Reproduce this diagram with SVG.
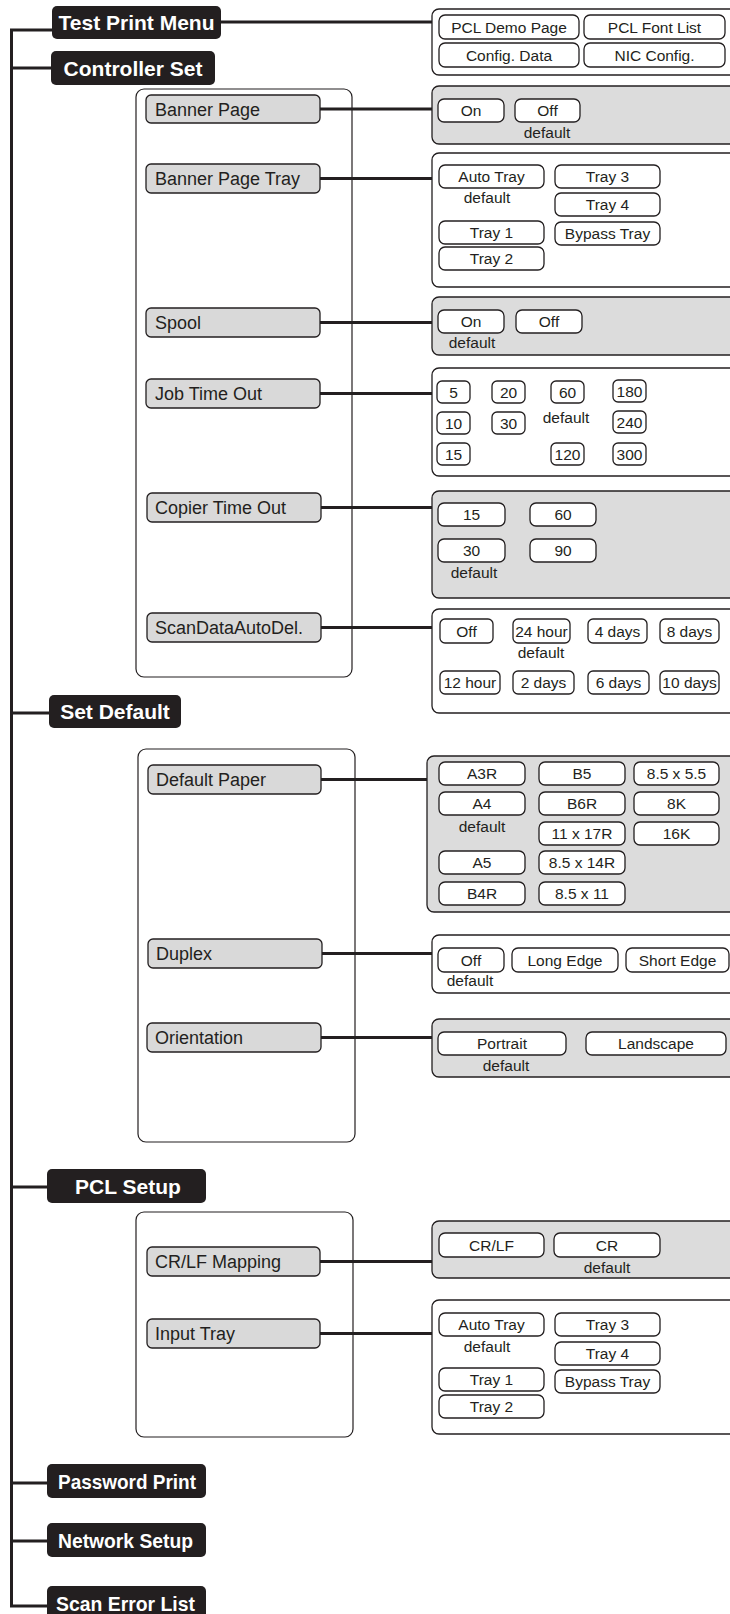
<svg xmlns="http://www.w3.org/2000/svg" width="730" height="1614" viewBox="0 0 730 1614">
<style>
text{font-family:"Liberation Sans",Arial,sans-serif;fill:#231f20}
.blk{fill:#231f20}
.bt{font-size:21px;font-weight:bold;fill:#fff;text-anchor:middle}
.cont{fill:#fff;stroke:#231f20;stroke-width:1.2}
.item{fill:#d9d9d9;stroke:#231f20;stroke-width:1.3}
.it{font-size:18px}
.gb{fill:#dcdcdc;stroke:#231f20;stroke-width:1.3}
.wb{fill:#fff;stroke:#231f20;stroke-width:1.3}
.o{fill:#fff;stroke:#231f20;stroke-width:1.3}
.ot{font-size:15.5px;text-anchor:middle}
.ln{fill:none;stroke:#231f20;stroke-width:3}
</style>
<g id="containers">
<rect class="cont" x="136" y="89" width="216" height="588" rx="8"/>
<rect class="cont" x="138" y="749" width="217" height="393" rx="8"/>
<rect class="cont" x="136" y="1212" width="217" height="225" rx="8"/>
</g>
<g id="connectors">
<path class="ln" d="M52 30H11.5V1606H47"/>
<path class="ln" d="M11.5 68H51M11.5 713H49M11.5 1187H47M11.5 1483H47M11.5 1541H47"/>
<path class="ln" d="M221 22H432"/>
<path class="ln" d="M320 109H432M320 178.5H432M320 322.5H432M320 393.5H432M321 507.5H432M321 627.5H432"/>
<path class="ln" d="M321 779.5H427M322 953.5H432M321 1037.5H432M320 1261.5H432M320 1333.5H432"/>
</g>
<g id="top-test-print">
<rect class="blk" x="52" y="6" width="169" height="33" rx="5"/>
<text class="bt" x="136.5" y="30">Test Print Menu</text>
</g>
<g id="top-controller-set">
<rect class="blk" x="51" y="51" width="164" height="34" rx="5"/>
<text class="bt" x="133" y="75.5">Controller Set</text>
</g>
<g id="top-set-default">
<rect class="blk" x="49" y="695" width="132" height="33" rx="5"/>
<text class="bt" x="115" y="719">Set Default</text>
</g>
<g id="top-pcl-setup">
<rect class="blk" x="47" y="1169" width="159" height="34" rx="5"/>
<text class="bt" x="128" y="1193.5">PCL Setup</text>
</g>
<g id="top-password-print">
<rect class="blk" x="47" y="1464" width="159" height="34" rx="5"/>
<text class="bt" x="127" y="1488.5" textLength="138" lengthAdjust="spacingAndGlyphs">Password Print</text>
</g>
<g id="top-network-setup">
<rect class="blk" x="47" y="1523" width="159" height="34" rx="5"/>
<text class="bt" x="125.5" y="1547.5" textLength="135" lengthAdjust="spacingAndGlyphs">Network Setup</text>
</g>
<g id="top-scan-error-list">
<rect class="blk" x="47" y="1586" width="159" height="40" rx="5"/>
<text class="bt" x="125.5" y="1610.5" textLength="139" lengthAdjust="spacingAndGlyphs">Scan Error List</text>
</g>
<g id="item-banner-page"><rect class="item" x="146" y="95" width="174" height="28" rx="5"/><text class="it" x="155" y="115.5">Banner Page</text></g>
<g id="item-banner-page-tray"><rect class="item" x="146" y="164" width="174" height="29" rx="5"/><text class="it" x="155" y="185">Banner Page Tray</text></g>
<g id="item-spool"><rect class="item" x="146" y="308" width="174" height="29" rx="5"/><text class="it" x="155" y="329">Spool</text></g>
<g id="item-job-time-out"><rect class="item" x="146" y="379" width="174" height="29" rx="5"/><text class="it" x="155" y="400">Job Time Out</text></g>
<g id="item-copier-time-out"><rect class="item" x="147" y="493" width="174" height="29" rx="5"/><text class="it" x="155" y="514">Copier Time Out</text></g>
<g id="item-scandata"><rect class="item" x="147" y="613" width="174" height="29" rx="5"/><text class="it" x="155" y="634">ScanDataAutoDel.</text></g>
<g id="item-default-paper"><rect class="item" x="148" y="765" width="173" height="29" rx="5"/><text class="it" x="156" y="786">Default Paper</text></g>
<g id="item-duplex"><rect class="item" x="148" y="939" width="174" height="29" rx="5"/><text class="it" x="156" y="960">Duplex</text></g>
<g id="item-orientation"><rect class="item" x="147" y="1023" width="174" height="29" rx="5"/><text class="it" x="155" y="1044">Orientation</text></g>
<g id="item-crlf"><rect class="item" x="147" y="1247" width="173" height="29" rx="5"/><text class="it" x="155" y="1268">CR/LF Mapping</text></g>
<g id="item-input-tray"><rect class="item" x="147" y="1319" width="173" height="29" rx="5"/><text class="it" x="155" y="1340">Input Tray</text></g>

<g id="opts-test-print">
<rect class="wb" x="432" y="9" width="320" height="66" rx="7"/>
<rect class="o" x="439" y="15" width="140" height="24" rx="6"/><text class="ot" x="509" y="32.5">PCL Demo Page</text>
<rect class="o" x="584" y="15" width="141" height="24" rx="6"/><text class="ot" x="654.5" y="32.5">PCL Font List</text>
<rect class="o" x="439" y="43" width="140" height="24" rx="6"/><text class="ot" x="509" y="60.5">Config. Data</text>
<rect class="o" x="584" y="43" width="141" height="24" rx="6"/><text class="ot" x="654.5" y="60.5">NIC Config.</text>
</g>
<g id="opts-banner-page">
<rect class="gb" x="432" y="86" width="320" height="58" rx="7"/>
<rect class="o" x="438" y="99" width="66" height="23" rx="6"/><text class="ot" x="471" y="116">On</text>
<rect class="o" x="515" y="99" width="65" height="23" rx="6"/><text class="ot" x="547.5" y="116">Off</text>
<text class="ot" x="547" y="138">default</text>
</g>
<g id="opts-banner-page-tray">
<rect class="wb" x="432" y="153" width="320" height="134" rx="7"/>
<rect class="o" x="439" y="165" width="105" height="23" rx="6"/><text class="ot" x="491.5" y="182">Auto Tray</text>
<text class="ot" x="487" y="203">default</text>
<rect class="o" x="555" y="165" width="105" height="23" rx="6"/><text class="ot" x="607.5" y="182">Tray 3</text>
<rect class="o" x="555" y="193" width="105" height="23" rx="6"/><text class="ot" x="607.5" y="210">Tray 4</text>
<rect class="o" x="439" y="221" width="105" height="23" rx="6"/><text class="ot" x="491.5" y="238">Tray 1</text>
<rect class="o" x="555" y="222" width="105" height="23" rx="6"/><text class="ot" x="607.5" y="239">Bypass Tray</text>
<rect class="o" x="439" y="247" width="105" height="23" rx="6"/><text class="ot" x="491.5" y="264">Tray 2</text>
</g>
<g id="opts-spool">
<rect class="gb" x="432" y="297" width="320" height="58" rx="7"/>
<rect class="o" x="438" y="310" width="66" height="23" rx="6"/><text class="ot" x="471" y="327">On</text>
<rect class="o" x="516" y="310" width="66" height="23" rx="6"/><text class="ot" x="549" y="327">Off</text>
<text class="ot" x="472" y="348">default</text>
</g>
<g id="opts-job-time-out">
<rect class="wb" x="432" y="368" width="320" height="108" rx="7"/>
<rect class="o" x="437" y="381" width="33" height="22" rx="5"/><text class="ot" x="453.5" y="397.5">5</text>
<rect class="o" x="492" y="381" width="33" height="22" rx="5"/><text class="ot" x="508.5" y="397.5">20</text>
<rect class="o" x="551" y="381" width="33" height="22" rx="5"/><text class="ot" x="567.5" y="397.5">60</text>
<rect class="o" x="613" y="380" width="33" height="22" rx="5"/><text class="ot" x="629.5" y="396.5">180</text>
<rect class="o" x="437" y="412" width="33" height="22" rx="5"/><text class="ot" x="453.5" y="428.5">10</text>
<rect class="o" x="492" y="412" width="33" height="22" rx="5"/><text class="ot" x="508.5" y="428.5">30</text>
<text class="ot" x="566" y="423">default</text>
<rect class="o" x="613" y="411" width="33" height="22" rx="5"/><text class="ot" x="629.5" y="427.5">240</text>
<rect class="o" x="437" y="443" width="33" height="22" rx="5"/><text class="ot" x="453.5" y="459.5">15</text>
<rect class="o" x="551" y="443" width="33" height="22" rx="5"/><text class="ot" x="567.5" y="459.5">120</text>
<rect class="o" x="613" y="443" width="33" height="22" rx="5"/><text class="ot" x="629.5" y="459.5">300</text>
</g>
<g id="opts-copier-time-out">
<rect class="gb" x="432" y="491" width="320" height="107" rx="7"/>
<rect class="o" x="438" y="503" width="67" height="23" rx="6"/><text class="ot" x="471.5" y="520">15</text>
<rect class="o" x="530" y="503" width="66" height="23" rx="6"/><text class="ot" x="563" y="520">60</text>
<rect class="o" x="438" y="539" width="67" height="23" rx="6"/><text class="ot" x="471.5" y="556">30</text>
<rect class="o" x="530" y="539" width="66" height="23" rx="6"/><text class="ot" x="563" y="556">90</text>
<text class="ot" x="474" y="578">default</text>
</g>
<g id="opts-scandata">
<rect class="wb" x="432" y="609" width="320" height="104" rx="7"/>
<rect class="o" x="440" y="619" width="53" height="24" rx="5"/><text class="ot" x="466.5" y="636.5">Off</text>
<rect class="o" x="513" y="619" width="57" height="24" rx="5"/><text class="ot" x="541.5" y="636.5">24 hour</text>
<rect class="o" x="588" y="619" width="59" height="24" rx="5"/><text class="ot" x="617.5" y="636.5">4 days</text>
<rect class="o" x="660" y="619" width="59" height="24" rx="5"/><text class="ot" x="689.5" y="636.5">8 days</text>
<text class="ot" x="541" y="658">default</text>
<rect class="o" x="440" y="671" width="60" height="23" rx="5"/><text class="ot" x="470" y="688">12 hour</text>
<rect class="o" x="513" y="671" width="61" height="23" rx="5"/><text class="ot" x="543.5" y="688">2 days</text>
<rect class="o" x="588" y="671" width="61" height="23" rx="5"/><text class="ot" x="618.5" y="688">6 days</text>
<rect class="o" x="660" y="671" width="59" height="23" rx="5"/><text class="ot" x="689.5" y="688">10 days</text>
</g>
<g id="opts-default-paper">
<rect class="gb" x="427" y="756" width="320" height="156" rx="7"/>
<rect class="o" x="439" y="762" width="86" height="23" rx="6"/><text class="ot" x="482" y="779">A3R</text>
<rect class="o" x="539" y="762" width="86" height="23" rx="6"/><text class="ot" x="582" y="779">B5</text>
<rect class="o" x="634" y="762" width="85" height="23" rx="6"/><text class="ot" x="676.5" y="779">8.5 x 5.5</text>
<rect class="o" x="439" y="792" width="86" height="23" rx="6"/><text class="ot" x="482" y="809">A4</text>
<rect class="o" x="539" y="792" width="86" height="23" rx="6"/><text class="ot" x="582" y="809">B6R</text>
<rect class="o" x="634" y="792" width="85" height="23" rx="6"/><text class="ot" x="676.5" y="809">8K</text>
<text class="ot" x="482" y="832">default</text>
<rect class="o" x="539" y="822" width="86" height="23" rx="6"/><text class="ot" x="582" y="839">11 x 17R</text>
<rect class="o" x="634" y="822" width="85" height="23" rx="6"/><text class="ot" x="676.5" y="839">16K</text>
<rect class="o" x="439" y="851" width="86" height="23" rx="6"/><text class="ot" x="482" y="868">A5</text>
<rect class="o" x="539" y="851" width="86" height="23" rx="6"/><text class="ot" x="582" y="868">8.5 x 14R</text>
<rect class="o" x="439" y="882" width="86" height="23" rx="6"/><text class="ot" x="482" y="899">B4R</text>
<rect class="o" x="539" y="882" width="86" height="23" rx="6"/><text class="ot" x="582" y="899">8.5 x 11</text>
</g>
<g id="opts-duplex">
<rect class="wb" x="432" y="935" width="320" height="58" rx="7"/>
<rect class="o" x="438" y="948" width="66" height="24" rx="6"/><text class="ot" x="471" y="965.5">Off</text>
<rect class="o" x="512" y="948" width="106" height="24" rx="6"/><text class="ot" x="565" y="965.5">Long Edge</text>
<rect class="o" x="626" y="948" width="103" height="24" rx="6"/><text class="ot" x="677.5" y="965.5">Short Edge</text>
<text class="ot" x="470" y="986">default</text>
</g>
<g id="opts-orientation">
<rect class="gb" x="432" y="1019" width="320" height="58" rx="7"/>
<rect class="o" x="438" y="1032" width="128" height="23" rx="6"/><text class="ot" x="502" y="1049">Portrait</text>
<rect class="o" x="586" y="1032" width="140" height="23" rx="6"/><text class="ot" x="656" y="1049">Landscape</text>
<text class="ot" x="506" y="1071">default</text>
</g>
<g id="opts-crlf">
<rect class="gb" x="432" y="1221" width="320" height="57" rx="7"/>
<rect class="o" x="439" y="1233" width="105" height="24" rx="6"/><text class="ot" x="491.5" y="1250.5">CR/LF</text>
<rect class="o" x="554" y="1233" width="106" height="24" rx="6"/><text class="ot" x="607" y="1250.5">CR</text>
<text class="ot" x="607" y="1273">default</text>
</g>
<g id="opts-input-tray">
<rect class="wb" x="432" y="1300" width="320" height="134" rx="7"/>
<rect class="o" x="439" y="1313" width="105" height="23" rx="6"/><text class="ot" x="491.5" y="1330">Auto Tray</text>
<text class="ot" x="487" y="1352">default</text>
<rect class="o" x="555" y="1313" width="105" height="23" rx="6"/><text class="ot" x="607.5" y="1330">Tray 3</text>
<rect class="o" x="555" y="1342" width="105" height="23" rx="6"/><text class="ot" x="607.5" y="1359">Tray 4</text>
<rect class="o" x="439" y="1368" width="105" height="23" rx="6"/><text class="ot" x="491.5" y="1385">Tray 1</text>
<rect class="o" x="555" y="1370" width="105" height="23" rx="6"/><text class="ot" x="607.5" y="1387">Bypass Tray</text>
<rect class="o" x="439" y="1395" width="105" height="23" rx="6"/><text class="ot" x="491.5" y="1412">Tray 2</text>
</g>
</svg>
